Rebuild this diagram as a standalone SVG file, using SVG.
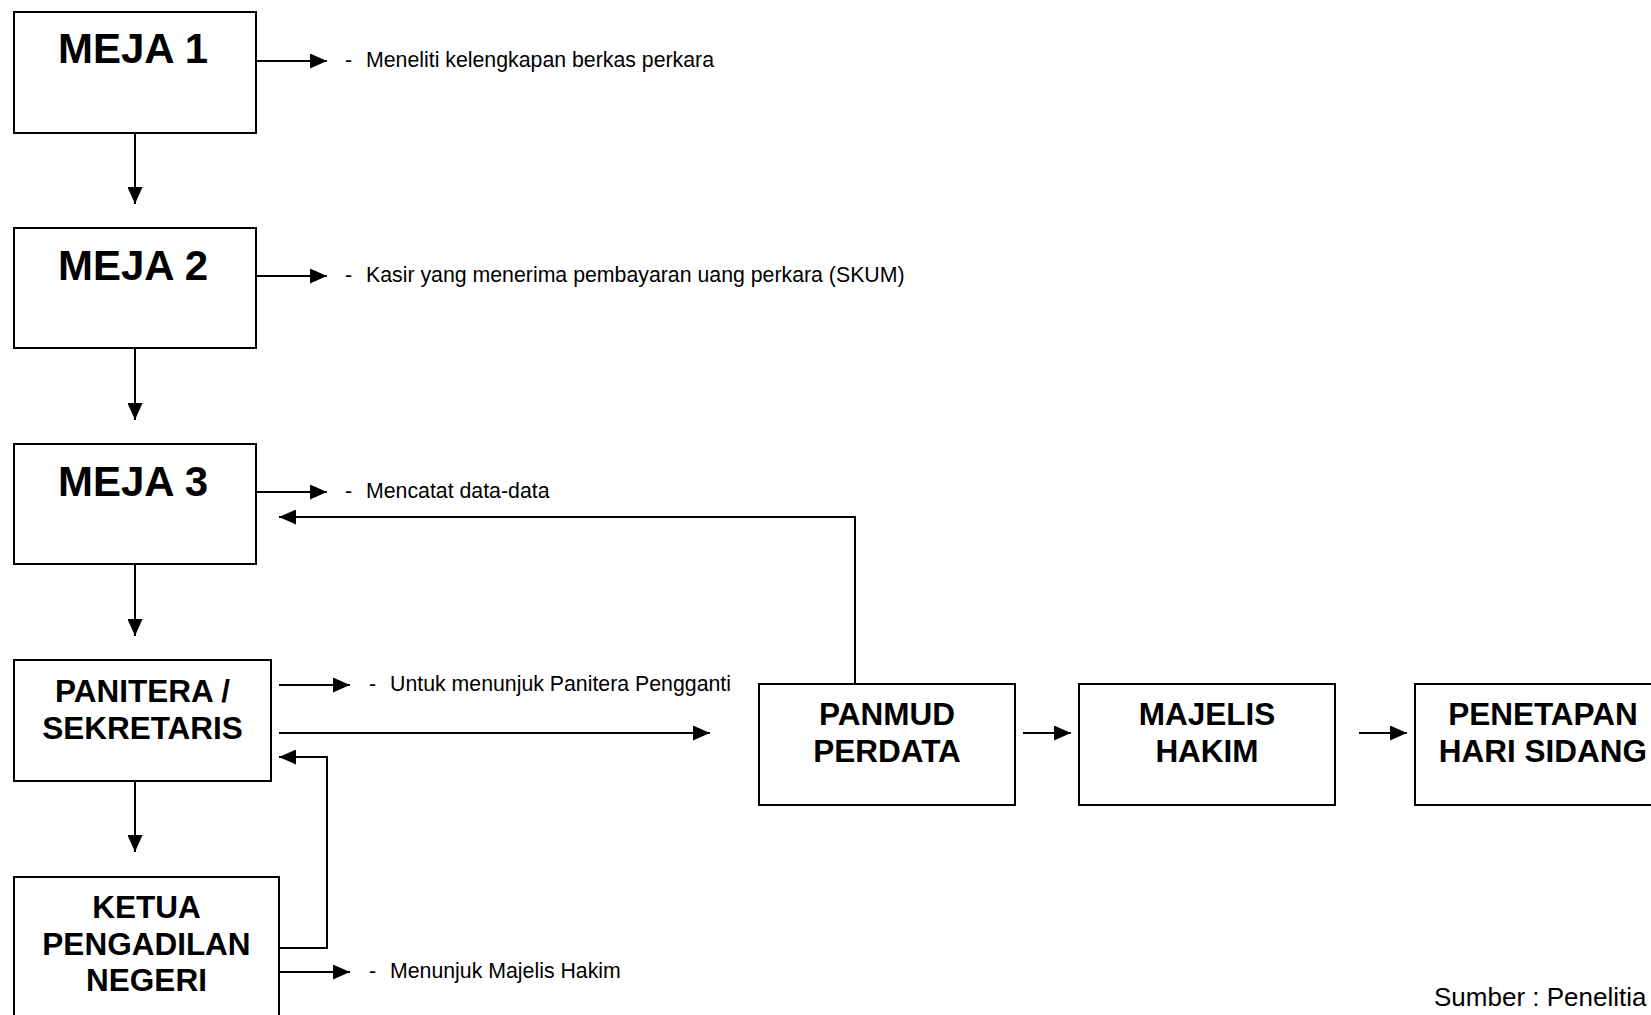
<svg xmlns="http://www.w3.org/2000/svg" width="1651" height="1015" viewBox="0 0 1651 1015">
  <style>
    .box { fill: #ffffff; stroke: #000000; stroke-width: 2; }
    .big { font-family: "Liberation Sans", Arial, sans-serif; font-weight: bold; font-size: 42px; fill: #000000; text-anchor: middle; }
    .title { font-family: "Liberation Sans", Arial, sans-serif; font-weight: bold; font-size: 31.5px; fill: #000000; text-anchor: middle; }
    .note { font-family: "Liberation Sans", Arial, sans-serif; font-size: 21.3px; fill: #000000; }
    .src { font-family: "Liberation Sans", Arial, sans-serif; font-size: 26px; fill: #000000; }
    .link { fill: none; stroke: #000000; stroke-width: 2; marker-end: url(#head); }
  </style>
  <defs>
    <marker id="head" markerUnits="userSpaceOnUse" markerWidth="17" markerHeight="15" refX="17" refY="7.5" orient="auto">
      <path d="M0,0 L17,7.5 L0,15 Z" fill="#000000"/>
    </marker>
  </defs>
  <rect width="1651" height="1015" fill="#ffffff"/>

  <g id="meja1">
    <rect class="box" x="14" y="12" width="242" height="121"/>
    <text class="big" x="133" y="63">MEJA 1</text>
  </g>
  <g id="meja2">
    <rect class="box" x="14" y="228" width="242" height="120"/>
    <text class="big" x="133" y="280">MEJA 2</text>
  </g>
  <g id="meja3">
    <rect class="box" x="14" y="444" width="242" height="120"/>
    <text class="big" x="133" y="496">MEJA 3</text>
  </g>
  <g id="panitera">
    <rect class="box" x="14" y="660" width="257" height="121"/>
    <text class="title" x="142.5" y="702">PANITERA /</text>
    <text class="title" x="142.5" y="738.5">SEKRETARIS</text>
  </g>
  <g id="ketua">
    <rect class="box" x="14" y="877" width="265" height="160"/>
    <text class="title" x="146.5" y="918">KETUA</text>
    <text class="title" x="146.5" y="954.5">PENGADILAN</text>
    <text class="title" x="146.5" y="991">NEGERI</text>
  </g>
  <g id="panmud">
    <rect class="box" x="759" y="684" width="256" height="121"/>
    <text class="title" x="887" y="725">PANMUD</text>
    <text class="title" x="887" y="761.5">PERDATA</text>
  </g>
  <g id="majelis">
    <rect class="box" x="1079" y="684" width="256" height="121"/>
    <text class="title" x="1207" y="725">MAJELIS</text>
    <text class="title" x="1207" y="761.5">HAKIM</text>
  </g>
  <g id="penetapan">
    <rect class="box" x="1415" y="684" width="256" height="121"/>
    <text class="title" x="1543" y="725">PENETAPAN</text>
    <text class="title" x="1543" y="761.5">HARI SIDANG</text>
  </g>

  <g id="notes">
    <text class="note" x="345" y="67">-</text>
    <text class="note" x="366" y="67">Meneliti kelengkapan berkas perkara</text>
    <text class="note" x="345" y="282">-</text>
    <text class="note" x="366" y="282">Kasir yang menerima pembayaran uang perkara (SKUM)</text>
    <text class="note" x="345" y="498">-</text>
    <text class="note" x="366" y="498">Mencatat data-data</text>
    <text class="note" x="369" y="691">-</text>
    <text class="note" x="390" y="691">Untuk menunjuk Panitera Pengganti</text>
    <text class="note" x="369" y="978">-</text>
    <text class="note" x="390" y="978">Menunjuk Majelis Hakim</text>
    <text class="src" x="1434" y="1006">Sumber : Penelitia</text>
  </g>

  <g id="connectors">
    <line class="link" x1="135" y1="133" x2="135" y2="204"/>
    <line class="link" x1="256" y1="61" x2="327" y2="61"/>
    <line class="link" x1="135" y1="348" x2="135" y2="420"/>
    <line class="link" x1="256" y1="276" x2="327" y2="276"/>
    <line class="link" x1="135" y1="564" x2="135" y2="636"/>
    <line class="link" x1="256" y1="492" x2="327" y2="492"/>
    <polyline class="link" points="855,684 855,517 279,517"/>
    <line class="link" x1="279" y1="685" x2="350" y2="685"/>
    <line class="link" x1="279" y1="733" x2="710" y2="733"/>
    <line class="link" x1="135" y1="781" x2="135" y2="852"/>
    <polyline class="link" points="279,948 327,948 327,757 279,757"/>
    <line class="link" x1="279" y1="972" x2="350" y2="972"/>
    <line class="link" x1="1023" y1="733" x2="1071" y2="733"/>
    <line class="link" x1="1359" y1="733" x2="1407" y2="733"/>
  </g>
</svg>
